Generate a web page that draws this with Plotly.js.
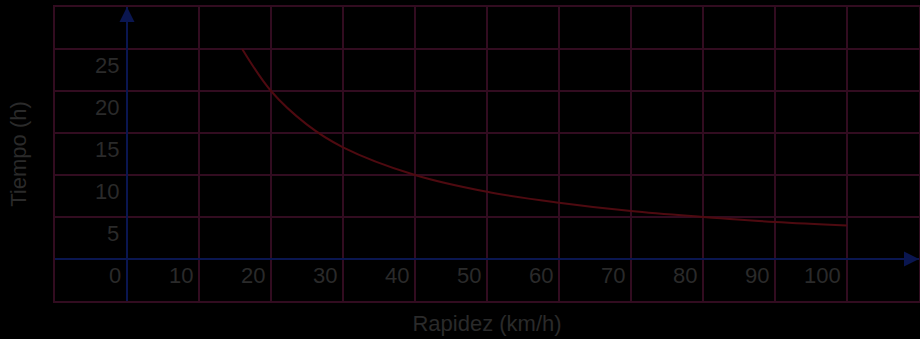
<!DOCTYPE html>
<html>
<head>
<meta charset="utf-8">
<script src="https://cdn.plot.ly/plotly-3.0.1.min.js"></script>
<style>html,body{margin:0;padding:0;background:#000;}#chart{width:920px;height:339px;}</style>
</head>
<body>
<div id="chart"></div>
<script>
// Data (t = time in hours, v = speed in km/h)
var rapidez = [16, 20, 25, 30, 40, 50, 60, 70, 80, 90, 100];
var tiempo = [25, 20, 16, 13.3, 10, 8, 6.7, 5.7, 5, 4.4, 4];
var xTicks = [0, 10, 20, 30, 40, 50, 60, 70, 80, 90, 100];
var yTicks = [5, 10, 15, 20, 25];

var gridColor = '#320c20';
var axisColor = '#0a1650';
var textColor = '#2a2a2a';
var fontFam = '"Liberation Sans", Arial, sans-serif';

var annotations = [];
xTicks.forEach(function (v) {
  annotations.push({
    x: v, y: 0, xref: 'x', yref: 'y', text: String(v), showarrow: false,
    xanchor: 'right', yanchor: 'middle', xshift: -4, yshift: -16,
    font: {family: fontFam, size: 22, color: textColor}
  });
});
yTicks.forEach(function (v) {
  annotations.push({
    x: 0, y: v, xref: 'x', yref: 'y', text: String(v), showarrow: false,
    xanchor: 'right', yanchor: 'middle', xshift: -6, yshift: -16,
    font: {family: fontFam, size: 22, color: textColor}
  });
});
// axis arrows
annotations.push({x: 0, y: 30, ax: 0, ay: 25, xref: 'x', yref: 'y', axref: 'x', ayref: 'y',
  showarrow: true, arrowhead: 2, arrowsize: 1.5, arrowwidth: 2, arrowcolor: axisColor, text: ''});
annotations.push({x: 110, y: 0, ax: 100, ay: 0, xref: 'x', yref: 'y', axref: 'x', ayref: 'y',
  showarrow: true, arrowhead: 2, arrowsize: 1.5, arrowwidth: 2, arrowcolor: axisColor, text: ''});

var trace = {
  x: rapidez, y: tiempo, type: 'scatter', mode: 'lines',
  line: {color: '#4e0a10', width: 2, shape: 'spline'},
  hoverinfo: 'skip'
};

var layout = {
  width: 920, height: 339,
  margin: {l: 55, r: 1, t: 7, b: 38, pad: 0},
  paper_bgcolor: '#000000', plot_bgcolor: '#000000',
  showlegend: false,
  xaxis: {
    range: [-10, 110], dtick: 10, tick0: 0, showgrid: true, gridcolor: gridColor, gridwidth: 2,
    zeroline: true, zerolinecolor: axisColor, zerolinewidth: 2,
    showline: true, mirror: true, linecolor: gridColor, linewidth: 2,
    showticklabels: false, ticks: '', fixedrange: true,
    title: {text: 'Rapidez (km/h)', font: {family: fontFam, size: 22, color: textColor}, standoff: 14}
  },
  yaxis: {
    range: [-5, 30], dtick: 5, tick0: 0, showgrid: true, gridcolor: gridColor, gridwidth: 2,
    zeroline: true, zerolinecolor: axisColor, zerolinewidth: 2,
    showline: true, mirror: true, linecolor: gridColor, linewidth: 2,
    showticklabels: false, ticks: '', fixedrange: true,
    title: {text: 'Tiempo (h)', font: {family: fontFam, size: 22, color: textColor}, standoff: 20}
  },
  annotations: annotations
};

Plotly.newPlot('chart', [trace], layout, {displayModeBar: false, staticPlot: true});
</script>
</body>
</html>
